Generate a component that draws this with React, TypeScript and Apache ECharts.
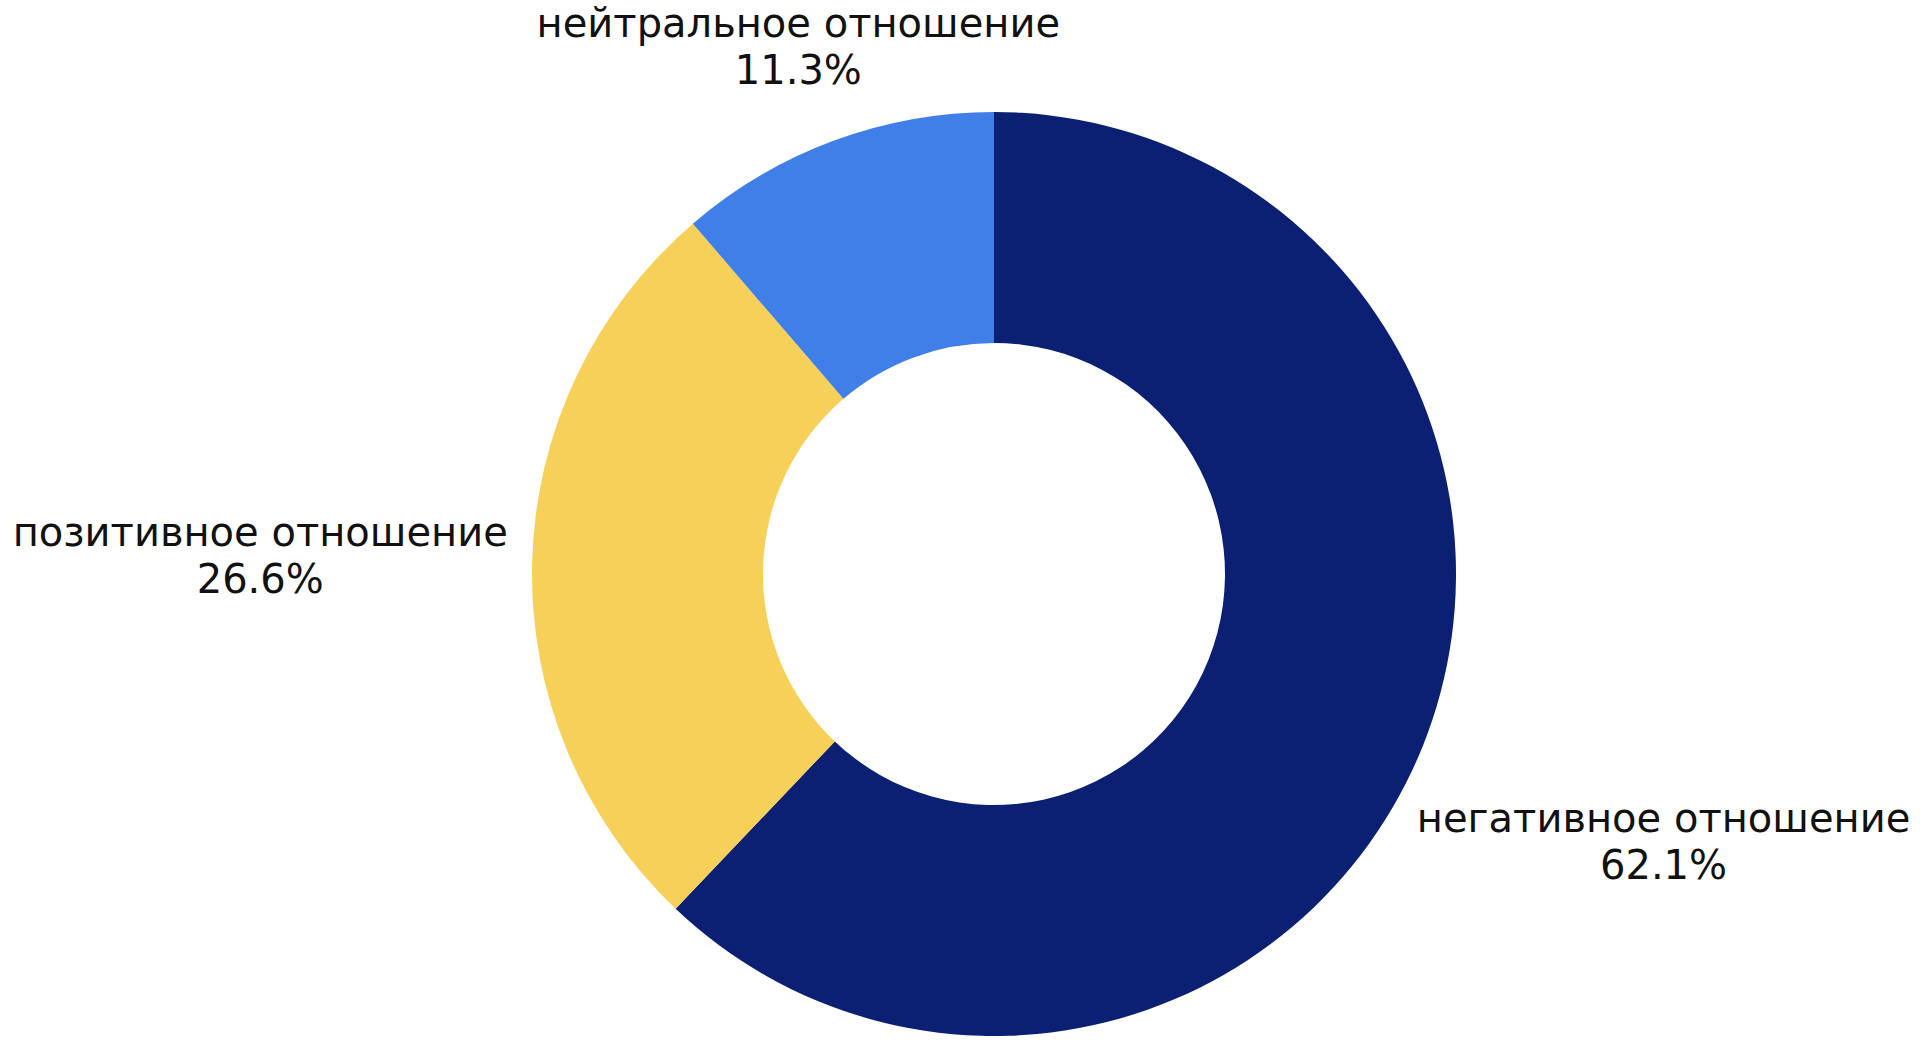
import React, { useEffect, useRef } from "react";
import * as echarts from "echarts";

// ---- data ----
const categories = ["негативное отношение", "позитивное отношение", "нейтральное отношение"];
const shares = [62.1, 26.6, 11.3];
const colors = ["#0b1f73", "#f7d05a", "#417fe8"];

// ---- layout ----
const CENTER: [number, number] = [994, 574];
const RADII: [number, number] = [231, 462];
const LABEL_DIST = [721, 734, 563]; // radial distance of each label's centre

export default function App() {
  const ref = useRef<HTMLDivElement>(null);
  useEffect(() => {
    if (!ref.current) return;
    const chart = echarts.init(ref.current, undefined, { renderer: "svg" });
    const total = shares.reduce((a, b) => a + b, 0);
    const mids: number[] = [];
    let acc = 0;
    shares.forEach((v) => {
      mids.push(((acc + v / 2) / total) * Math.PI * 2);
      acc += v;
    });
    chart.setOption({
      animation: false,
      backgroundColor: "#ffffff",
      series: [
        {
          type: "pie",
          center: CENTER,
          radius: RADII,
          startAngle: 90,
          clockwise: true,
          silent: true,
          avoidLabelOverlap: false,
          itemStyle: { borderWidth: 0 },
          emphasis: { disabled: true },
          labelLine: { show: false },
          label: {
            show: true,
            position: "outside",
            formatter: (p: any) => `${p.name}\n${Number(p.value).toFixed(1)}%`,
            fontFamily: "DejaVu Sans",
            fontSize: 40,
            lineHeight: 47,
            color: "#111111",
            align: "center",
          },
          labelLayout: (p: any) => {
            const i = p.dataIndex;
            const t = mids[i];
            return {
              x: CENTER[0] + LABEL_DIST[i] * Math.sin(t),
              y: CENTER[1] - LABEL_DIST[i] * Math.cos(t),
              align: "center",
              verticalAlign: "middle",
            };
          },
          data: categories.map((name, i) => ({
            name,
            value: shares[i],
            itemStyle: { color: colors[i] },
          })),
        },
      ],
    });
    return () => chart.dispose();
  }, []);
  return (
    <div
      ref={ref}
      style={{ position: "fixed", left: 0, top: 0, width: "1920px", height: "1042px" }}
    />
  );
}
